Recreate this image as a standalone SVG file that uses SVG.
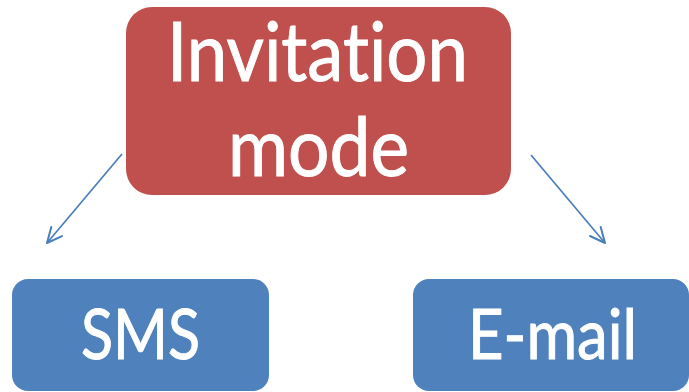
<svg xmlns="http://www.w3.org/2000/svg" width="689" height="392" viewBox="0 0 689 392">
  <style>
    .label { font-family: Lato, "Open Sans", "Liberation Sans", sans-serif; fill: #ffffff; stroke: #ffffff; stroke-width: 1; font-variant-ligatures: none; font-feature-settings: "liga" 0; }
    .root { fill: #C0504D; }
    .leaf { fill: #4F81BD; }
    .link { stroke: #4A7EBB; stroke-width: 1.7; fill: none; }
  </style>
  <defs>
    <marker id="open-arrow" markerUnits="userSpaceOnUse" markerWidth="24" markerHeight="24" viewBox="-20 -10 24 20" refX="0" refY="0" orient="auto">
      <path d="M-15,-7 L0,0 L-15,7" fill="none" stroke="#4A7EBB" stroke-width="2" stroke-linecap="round" stroke-linejoin="round"/>
    </marker>
  </defs>

  <g id="connectors">
    <line class="link" x1="122" y1="154" x2="47" y2="243" marker-end="url(#open-arrow)"/>
    <line class="link" x1="531" y1="155" x2="605" y2="243" marker-end="url(#open-arrow)"/>
  </g>

  <g id="node-invitation-mode">
    <rect class="root" x="126" y="7" width="385" height="188" rx="26" ry="26"/>
    <text class="label" x="167" y="81" font-size="81" textLength="301" lengthAdjust="spacingAndGlyphs">Invitation</text>
    <text class="label" x="228" y="176" font-size="81" textLength="181" lengthAdjust="spacingAndGlyphs">mode</text>
  </g>

  <g id="node-sms">
    <rect class="leaf" x="12" y="279" width="257" height="112" rx="16" ry="16"/>
    <text class="label" x="81" y="359" font-size="70" textLength="119" lengthAdjust="spacingAndGlyphs">SMS</text>
  </g>

  <g id="node-email">
    <rect class="leaf" x="413" y="279" width="276" height="112" rx="16" ry="16"/>
    <text class="label" x="468" y="359" font-size="70" textLength="169" lengthAdjust="spacingAndGlyphs">E-mail</text>
  </g>
</svg>
